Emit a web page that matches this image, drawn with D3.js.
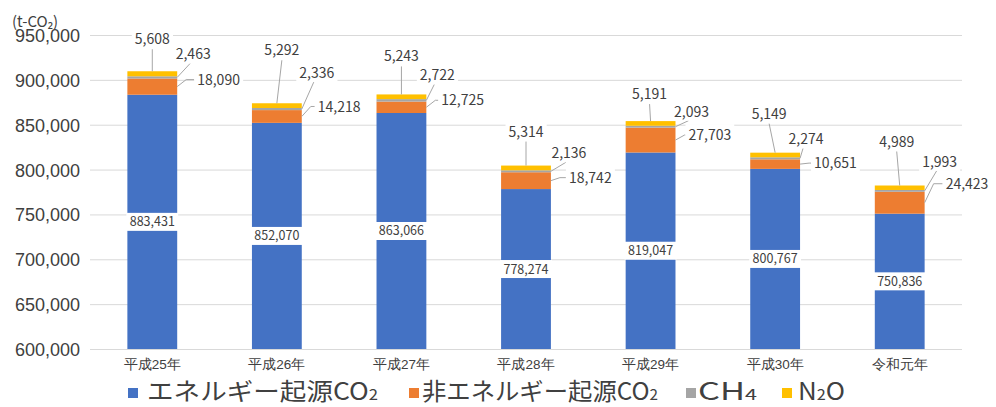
<!DOCTYPE html>
<html lang="ja">
<head>
<meta charset="utf-8">
<script src="https://cdn.jsdelivr.net/npm/d3@7"></script>
<style>
  html, body { margin: 0; padding: 0; background: #fff; }
  svg { display: block; font-family: "Noto Sans CJK JP", "Noto Sans", sans-serif; }
</style>
</head>
<body>
<svg id="chart" width="996" height="407"></svg>
<script>
// 温室効果ガス排出量の推移 (t-CO2)
const years = ["平成25年", "平成26年", "平成27年", "平成28年", "平成29年", "平成30年", "令和元年"];
const energyCO2 = [883431, 852070, 863066, 778274, 819047, 800767, 750836];
const nonEnergyCO2 = [18090, 14218, 12725, 18742, 27703, 10651, 24423];
const ch4 = [2463, 2336, 2722, 2136, 2093, 2274, 1993];
const n2o = [5608, 5292, 5243, 5314, 5191, 5149, 4989];
const yTicks = [600000, 650000, 700000, 750000, 800000, 850000, 900000, 950000];
const seriesNames = [
  { key: "energy", name: "エネルギー起源CO", sub: "2", color: "#4472C4" },
  { key: "nonEnergy", name: "非エネルギー起源CO", sub: "2", color: "#ED7D31" },
  { key: "ch4", name: "CH", sub: "4", color: "#A5A5A5" },
  { key: "n2o", name: "N", sub: "2", tail: "O", color: "#FFC000" }
];

// Callout placement (pixel offsets) for the small segments
const n2oCallout = [[0, -32], [5, -53], [0, -38], [0, -34], [-1, -27], [-6, -39], [-3, -44]];
const ch4Callout = [[16, -23], [15, -36], [11, -25], [18, -18], [16, -15], [6, -19], [15, -29]];
const nonEnergyCallout = [[20, -7], [16, -10], [15, -7], [18, -3], [13, -5], [14, -1], [21, -19]];

const fmt = d3.format(",");
const textColor = "#404040";

const svg = d3.select("#chart");
const margin = { left: 90, right: 34, top: 35, bottom: 58 };
const W = 996, H = 407;

const x = d3.scaleBand()
  .domain(years)
  .range([margin.left, W - margin.right])
  .paddingInner(0.6)
  .paddingOuter(0.3);

const y = d3.scaleLinear()
  .domain([600000, 950000])
  .range([H - margin.bottom, margin.top]);

const rows = years.map((yr, i) => ({
  year: yr,
  energy: energyCO2[i],
  nonEnergy: nonEnergyCO2[i],
  ch4: ch4[i],
  n2o: n2o[i]
}));

const stack = d3.stack().keys(seriesNames.map(s => s.key));
const stacked = stack(rows);

// Gridlines + y labels
const yAxis = d3.axisLeft(y).tickValues(yTicks).tickSize(-(W - margin.right - margin.left)).tickFormat(fmt).tickPadding(10);
const gy = svg.append("g").attr("transform", `translate(${margin.left},0)`).call(yAxis);
gy.select(".domain").remove();
gy.selectAll(".tick line").attr("stroke", "#d9d9d9").attr("stroke-width", 1);
gy.selectAll(".tick text")
  .attr("fill", textColor)
  .style("font-size", "18px")
  .attr("dy", "0.36em");

// Unit label
svg.append("text")
  .attr("x", 12).attr("y", 27)
  .attr("fill", textColor)
  .style("font-size", "15px")
  .text("(t-CO₂)");

// X labels
const xAxis = d3.axisBottom(x).tickSize(0).tickPadding(10);
const gx = svg.append("g").attr("transform", `translate(0,${y(600000)})`).call(xAxis);
gx.select(".domain").remove();
gx.selectAll(".tick text").attr("fill", textColor).style("font-size", "13.5px");

// Bars
const domainMin = y.domain()[0];
svg.append("g").selectAll("g")
  .data(stacked)
  .join("g")
  .attr("fill", (d, i) => seriesNames[i].color)
  .selectAll("rect")
  .data(d => d)
  .join("rect")
  .attr("x", d => x(d.data.year))
  .attr("width", x.bandwidth())
  .attr("y", d => y(d[1]))
  .attr("height", d => y(Math.max(d[0], domainMin)) - y(d[1]));

// Energy CO2 labels inside bars
const energyLayer = stacked[0];
const inner = svg.append("g");
energyLayer.forEach((d, i) => {
  const cx = x(d.data.year) + x.bandwidth() / 2;
  const cy = (y(Math.max(d[0], domainMin)) + y(d[1])) / 2;
  inner.append("rect")
    .attr("x", x(d.data.year) - 1).attr("width", x.bandwidth() + 2)
    .attr("y", cy - 9).attr("height", 18)
    .attr("fill", "#fff");
  inner.append("text")
    .attr("x", cx).attr("y", cy).attr("dy", "0.36em")
    .attr("text-anchor", "middle")
    .attr("fill", textColor)
    .style("font-size", "12.5px")
    .text(fmt(energyCO2[i]));
});

// Callouts
const lines = svg.append("g").attr("stroke", "#a6a6a6").attr("stroke-width", 1).attr("fill", "none");
const labels = svg.append("g");
function callout(tx, ty, anchor, txt, path) {
  lines.append("path").attr("d", path);
  const t = labels.append("text")
    .attr("x", tx).attr("y", ty).attr("dy", "0.36em")
    .attr("text-anchor", anchor)
    .attr("fill", textColor)
    .style("font-size", "14px")
    .text(txt);
  const bb = t.node().getBBox();
  labels.insert("rect", () => t.node())
    .attr("x", bb.x - 3).attr("y", bb.y)
    .attr("width", bb.width + 6).attr("height", bb.height)
    .attr("fill", "#fff");
}

rows.forEach((r, i) => {
  const left = x(r.year);
  const right = left + x.bandwidth();
  const cx = left + x.bandwidth() / 2;
  const top = y(stacked[3][i][1]);
  // N2O
  const nx = cx + n2oCallout[i][0], ny = top + n2oCallout[i][1];
  callout(nx, ny, "middle", fmt(n2o[i]), `M${nx},${ny + 10}L${cx},${top}`);
  // CH4
  const chMid = (y(stacked[2][i][0]) + y(stacked[2][i][1])) / 2;
  const hx = right + ch4Callout[i][0], hy = chMid + ch4Callout[i][1];
  callout(hx, hy, "middle", fmt(ch4[i]), `M${right},${chMid}L${hx - 3},${hy + 9}`);
  // Non-energy CO2
  const neMid = (y(stacked[1][i][0]) + y(stacked[1][i][1])) / 2;
  const ex = right + nonEnergyCallout[i][0], ey = neMid + nonEnergyCallout[i][1];
  callout(ex, ey, "start", fmt(nonEnergyCO2[i]),
    `M${right},${neMid}L${right + 9},${ey}L${ex - 3},${ey}`);
});

// Legend
const legendItems = [
  { sx: 128, tx: 147, w: 231 },
  { sx: 409, tx: 422, w: 236 },
  { sx: 686, tx: 698, w: 59 },
  { sx: 782, tx: 798, w: 47 }
];
const legend = svg.append("g");
seriesNames.forEach((s, i) => {
  const it = legendItems[i];
  legend.append("rect")
    .attr("x", it.sx).attr("y", 388).attr("width", 10).attr("height", 10)
    .attr("fill", s.color);
  const t = legend.append("text")
    .attr("x", it.tx).attr("y", 400)
    .attr("fill", textColor)
    .style("font-size", "24px")
    .attr("textLength", it.w)
    .attr("lengthAdjust", "spacingAndGlyphs");
  t.append("tspan").text(s.name);
  t.append("tspan").style("font-size", "15px").text(s.sub);
  if (s.tail) t.append("tspan").style("font-size", "24px").text(s.tail);
});
</script>
</body>
</html>
